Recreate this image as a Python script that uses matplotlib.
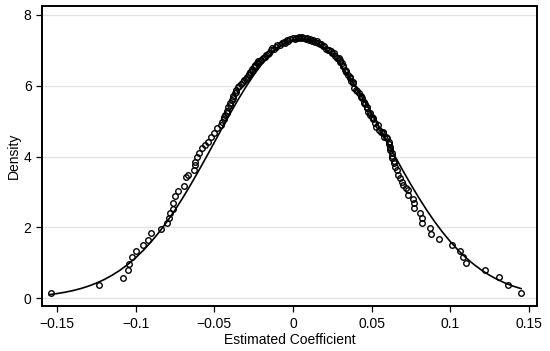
import matplotlib
matplotlib.use("Agg")
import matplotlib.pyplot as plt

plt.rcParams["font.family"] = ["Liberation Sans", "DejaVu Sans"]

# kernel density evaluated at each estimate (open circles)
kd_x = [-0.154, -0.123, -0.108, -0.105, -0.104, -0.102, -0.100, -0.095, -0.092, -0.090,
        -0.084, -0.080, -0.079, -0.078, -0.076, -0.076, -0.075, -0.073, -0.069,
        -0.068, -0.067, -0.063, -0.062, -0.062, -0.061, -0.060, -0.058, -0.056, -0.054,
        -0.052, -0.050, -0.048, -0.046, -0.045, -0.044, -0.043, -0.042, -0.041, -0.040,
        -0.039, -0.038, -0.037, -0.036, -0.035, -0.033, -0.032, -0.030, -0.029, -0.028,
        -0.027, -0.026, -0.025, -0.024, -0.023, -0.022, -0.021, -0.020, -0.018, -0.017,
        -0.015, -0.014, -0.013, -0.011, -0.010, -0.007, -0.006, -0.004, -0.002, 0.000,
        0.002, 0.004, 0.006, 0.007, 0.009, 0.011, 0.013, 0.015, 0.016, 0.018,
        0.020, 0.021, 0.022, 0.024, 0.026, 0.027, 0.029, 0.030, 0.031, 0.032,
        0.033, 0.034, 0.035, 0.036, 0.037, 0.038, 0.039, 0.040, 0.042, 0.043,
        0.044, 0.045, 0.046, 0.047, 0.048, 0.049, 0.050, 0.051, 0.052, 0.053,
        0.055, 0.056, 0.057, 0.058, 0.060, 0.061, 0.062, 0.062, 0.063, 0.063,
        0.064, 0.065, 0.066, 0.067, 0.068, 0.069, 0.070, 0.072, 0.073,
        0.073, 0.076, 0.077, 0.077, 0.081, 0.082, 0.082, 0.087, 0.088, 0.093,
        0.101, 0.106, 0.108, 0.110, 0.122, 0.131, 0.137, 0.145,
        # dense middle of the band
        -0.044, -0.042, -0.040, -0.038, -0.036, -0.034, -0.031, -0.028, -0.026, -0.024,
        -0.022, -0.019, -0.016, -0.012, -0.008, -0.005, -0.003, 0.001, 0.003, 0.005,
        0.008, 0.010, 0.012, 0.014, 0.017, 0.019, 0.023, 0.025, 0.028, 0.030,
        0.032, 0.034, 0.036, 0.038, 0.041, 0.043, 0.045, 0.047, 0.049, 0.051,
        0.054, 0.057, 0.059, 0.061, 0.062, 0.063, 0.064]
kd_y = [0.13, 0.37, 0.58, 0.79, 0.97, 1.15, 1.33, 1.49, 1.64, 1.83,
        1.96, 2.11, 2.27, 2.41, 2.53, 2.68, 2.88, 3.03, 3.16,
        3.41, 3.48, 3.62, 3.76, 3.85, 3.99, 4.11, 4.23, 4.32, 4.42,
        4.56, 4.67, 4.80, 4.89, 4.98, 5.13, 5.17, 5.29, 5.41, 5.51,
        5.60, 5.70, 5.79, 5.88, 5.97, 6.05, 6.11, 6.19, 6.26, 6.33,
        6.40, 6.47, 6.54, 6.59, 6.63, 6.69, 6.70, 6.74, 6.80, 6.87,
        6.93, 7.00, 7.06, 7.10, 7.14, 7.20, 7.24, 7.28, 7.31, 7.34,
        7.36, 7.37, 7.37, 7.36, 7.34, 7.31, 7.28, 7.25, 7.22, 7.17,
        7.11, 7.05, 7.01, 6.97, 6.92, 6.84, 6.78, 6.73, 6.63, 6.57,
        6.45, 6.39, 6.29, 6.21, 6.13, 6.07, 5.93, 5.88, 5.79, 5.72,
        5.65, 5.55, 5.48, 5.41, 5.27, 5.17, 5.13, 5.05, 4.94, 4.84,
        4.76, 4.70, 4.66, 4.56, 4.51, 4.42, 4.28, 4.18, 4.09, 3.95,
        3.81, 3.71, 3.62, 3.48, 3.38, 3.28, 3.19, 3.11, 3.05,
        2.92, 2.79, 2.68, 2.54, 2.39, 2.25, 2.11, 1.97, 1.81, 1.66,
        1.50, 1.33, 1.17, 0.98, 0.79, 0.59, 0.38, 0.13,
        5.07, 5.22, 5.45, 5.64, 5.83, 6.00, 6.15, 6.29, 6.43, 6.55,
        6.65, 6.77, 6.89, 7.04, 7.15, 7.22, 7.27, 7.32, 7.34, 7.34,
        7.33, 7.30, 7.26, 7.23, 7.17, 7.11, 7.00, 6.92, 6.79, 6.68,
        6.55, 6.43, 6.25, 6.10, 5.86, 5.68, 5.52, 5.38, 5.23, 5.09,
        4.88, 4.69, 4.55, 4.36, 4.23, 4.02, 3.88]

# normal density curve, read at regular steps
norm_x = [-0.155, -0.15, -0.145, -0.14, -0.135, -0.13, -0.125, -0.12, -0.115, -0.11,
          -0.105, -0.10, -0.095, -0.09, -0.085, -0.08, -0.075, -0.07, -0.065, -0.06,
          -0.055, -0.05, -0.045, -0.04, -0.035, -0.03, -0.025, -0.02, -0.015, -0.01,
          -0.005, 0.0, 0.005, 0.01, 0.015, 0.02, 0.025, 0.03, 0.035, 0.04,
          0.045, 0.05, 0.055, 0.06, 0.065, 0.07, 0.075, 0.08, 0.085, 0.09,
          0.095, 0.10, 0.105, 0.11, 0.115, 0.12, 0.125, 0.13, 0.135, 0.14, 0.145]
norm_y = [0.097, 0.127, 0.164, 0.210, 0.267, 0.337, 0.422, 0.523, 0.644, 0.785,
          0.950, 1.139, 1.354, 1.597, 1.866, 2.163, 2.487, 2.835, 3.205, 3.592,
          3.991, 4.398, 4.807, 5.209, 5.597, 5.962, 6.298, 6.598, 6.853, 7.060,
          7.210, 7.302, 7.333, 7.302, 7.210, 7.060, 6.853, 6.598, 6.298, 5.962,
          5.597, 5.209, 4.807, 4.398, 3.991, 3.592, 3.205, 2.835, 2.487, 2.163,
          1.866, 1.597, 1.354, 1.139, 0.950, 0.785, 0.644, 0.523, 0.422, 0.337, 0.267]

x_ticks = [-0.15, -0.1, -0.05, 0, 0.05, 0.1, 0.15]
x_labels = ["\u22120.15", "\u22120.1", "\u22120.05", "0", "0.05", "0.1", "0.15"]
y_ticks = [0, 2, 4, 6, 8]

fig = plt.figure(figsize=(5.5, 3.51), dpi=100)
ax = fig.add_axes([0.0764, 0.128, 0.8996, 0.855])

ax.plot(norm_x, norm_y, color="black", lw=1.2, zorder=3)
ax.plot(kd_x, kd_y, linestyle="none", marker="o", markersize=4,
        markerfacecolor="none", markeredgecolor="black", markeredgewidth=1.0, zorder=4)

ax.set_xlim(-0.1595, 0.155)
ax.set_ylim(-0.226, 8.254)
ax.set_xticks(x_ticks)
ax.set_xticklabels(x_labels)
ax.set_yticks(y_ticks)
ax.grid(axis="y", color="#e3e3e3", lw=0.9)
ax.set_axisbelow(True)

for s in ax.spines.values():
    s.set_linewidth(1.4)
ax.tick_params(direction="out", length=4, width=0.9, labelsize=10)
ax.tick_params(axis="x", pad=4)
ax.set_xlabel("Estimated Coefficient", fontsize=10, labelpad=1)
ax.set_ylabel("Density", fontsize=10, labelpad=2)

fig.savefig("out.png", dpi=100)
